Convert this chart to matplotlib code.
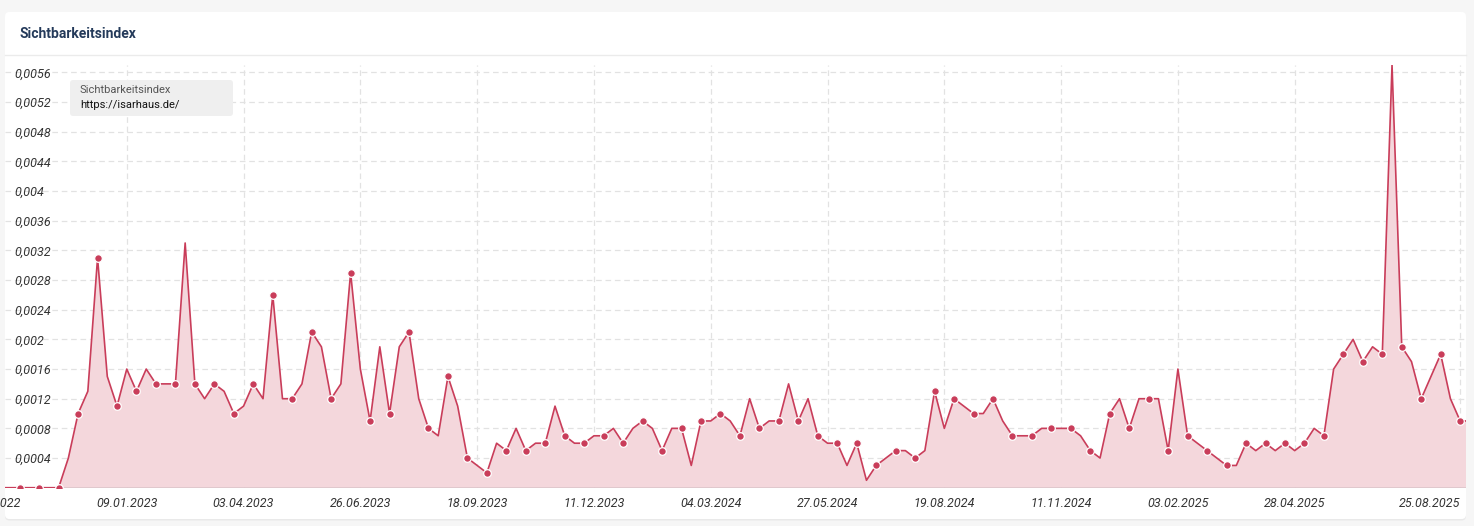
import numpy as np
import pandas as pd
import matplotlib
matplotlib.use("Agg")
import matplotlib.pyplot as plt
from matplotlib.patches import FancyBboxPatch
from matplotlib.ticker import FuncFormatter
import matplotlib.transforms as mtransforms

# weekly Sichtbarkeitsindex values, starting 03.10.2022
dates = pd.date_range("2022-10-03", periods=153, freq="7D")
values = [
    0, 0, 0, 0, 0, 0, 0, 0, 0.0004, 0.0010,
    0.0013, 0.0031, 0.0015, 0.0011, 0.0016, 0.0013, 0.0016, 0.0014, 0.0014, 0.0014,
    0.0033, 0.0014, 0.0012, 0.0014, 0.0013, 0.0010, 0.0011, 0.0014, 0.0012, 0.0026,
    0.0012, 0.0012, 0.0014, 0.0021, 0.0019, 0.0012, 0.0014, 0.0029, 0.0016, 0.0009,
    0.0019, 0.0010, 0.0019, 0.0021, 0.0012, 0.0008, 0.0007, 0.0015, 0.0011, 0.0004,
    0.0003, 0.0002, 0.0006, 0.0005, 0.0008, 0.0005, 0.0006, 0.0006, 0.0011, 0.0007,
    0.0006, 0.0006, 0.0007, 0.0007, 0.0008, 0.0006, 0.0008, 0.0009, 0.0008, 0.0005,
    0.0008, 0.0008, 0.0003, 0.0009, 0.0009, 0.0010, 0.0009, 0.0007, 0.0012, 0.0008,
    0.0009, 0.0009, 0.0014, 0.0009, 0.0012, 0.0007, 0.0006, 0.0006, 0.0003, 0.0006,
    0.0001, 0.0003, 0.0004, 0.0005, 0.0005, 0.0004, 0.0005, 0.0013, 0.0008, 0.0012,
    0.0011, 0.0010, 0.0010, 0.0012, 0.0009, 0.0007, 0.0007, 0.0007, 0.0008, 0.0008,
    0.0008, 0.0008, 0.0007, 0.0005, 0.0004, 0.0010, 0.0012, 0.0008, 0.0012, 0.0012,
    0.0012, 0.0005, 0.0016, 0.0007, 0.0006, 0.0005, 0.0004, 0.0003, 0.0003, 0.0006,
    0.0005, 0.0006, 0.0005, 0.0006, 0.0005, 0.0006, 0.0008, 0.0007, 0.0016, 0.0018,
    0.0020, 0.0017, 0.0019, 0.0018, 0.0057, 0.0019, 0.0017, 0.0012, 0.0015, 0.0018,
    0.0012, 0.0009, 0.0009,
]
tick_idx = [0, 14, 26, 38, 50, 62, 74, 86, 98, 110, 122, 134, 151]
y_ticks = [0.0004 * k for k in range(1, 15)]

line_col = "#c93d5a"
fill_col = "#f4d7dc"
grid_col = "#e2e2e2"
text_col = "#333333"

W, H = 1474, 526
fig = plt.figure(figsize=(W / 100, H / 100), dpi=100)
fig.patch.set_facecolor("#f6f6f6")

def fx(px):
    return px / W

def fy(py):
    return 1 - py / H

# card background
shadow = FancyBboxPatch((fx(5), fy(520.5)), fx(1461), (519 - 12) / H,
                        boxstyle="round,pad=0,rounding_size=0.003", mutation_aspect=W / H,
                        transform=fig.transFigure, facecolor="#e9e9e9", edgecolor="none", zorder=0)
card = FancyBboxPatch((fx(5), fy(519)), fx(1461), (519 - 12) / H,
                      boxstyle="round,pad=0,rounding_size=0.003", mutation_aspect=W / H,
                      transform=fig.transFigure, facecolor="white", edgecolor="none", zorder=0)
fig.patches.extend([shadow, card])
fig.add_artist(plt.Line2D([fx(5), fx(1466)], [fy(55), fy(55)], transform=fig.transFigure,
                          color="#ebebeb", lw=1, zorder=0.5))
fig.text(fx(20), fy(34), "Sichtbarkeitsindex", fontsize=10, fontweight="bold",
         family="Roboto", color="#243a5a", va="center", ha="left")

# plot area
ax = fig.add_axes([fx(5), fy(487.7), fx(1466) - fx(5), (487.7 - 65) / H])
ax.set_zorder(1)
ax.set_facecolor("none")

x = dates
ax.fill_between(x, values, 0, color=fill_col, lw=0, zorder=1)
ax.plot(x, values, color=line_col, lw=1.2, zorder=3)
ax.plot(x[1::2], values[1::2], ls="none", marker="o", ms=5.5, mfc=line_col,
        mec="white", mew=0.9, zorder=4)

week = pd.Timedelta(days=7)
ax.set_xlim(dates[0] + 1.49 * week, dates[0] + 151.6 * week)
ax.set_ylim(0, 0.0057)

for s in ax.spines.values():
    s.set_visible(False)
ax.axhline(0, color="#dcc3c9", lw=1.2, zorder=2)

# grid + ticks
ax.set_yticks(y_ticks)
ax.yaxis.set_major_formatter(FuncFormatter(
    lambda v, p: f"{v:.4f}".rstrip("0").replace(".", ",")))
ax.set_xticks([dates[i] for i in tick_idx[1:]])
ax.set_xticklabels([dates[i].strftime("%d.%m.%Y") for i in tick_idx[1:]])
ax.grid(True, color=grid_col, lw=0.9, ls=(0, (4.5, 3)), zorder=0)
ax.set_axisbelow(True)
ax.tick_params(axis="both", length=0, colors=text_col)
ax.tick_params(axis="y", pad=-6.5, labelsize=9)
ax.tick_params(axis="x", pad=7, labelsize=9)
for lab in ax.get_yticklabels():
    lab.set_ha("left")
    lab.set_fontstyle("italic")
    lab.set_family("Roboto")
for lab in ax.get_xticklabels():
    lab.set_fontstyle("italic")
    lab.set_family("Roboto")
# last label sits right-aligned at its tick
last = ax.get_xticklabels()[-1]
last.set_ha("right")

# first tick label, cut by the card edge
trans = mtransforms.blended_transform_factory(ax.transData, ax.transAxes)
first = ax.text(dates[tick_idx[0]], -7 / ((487.7 - 65) * 0.72), dates[tick_idx[0]].strftime("%d.%m.%Y"),
                transform=trans, ha="center", va="top", fontsize=9, fontstyle="italic",
                family="Roboto", color=text_col, clip_on=False)
first.set_clip_path(card)

# legend box
leg = FancyBboxPatch((fx(70), fy(116)), fx(163), 36 / H,
                     boxstyle="round,pad=0,rounding_size=0.002", mutation_aspect=W / H,
                     transform=fig.transFigure, facecolor="#efefef", edgecolor="none", zorder=5)
fig.patches.append(leg)
fig.text(fx(80), fy(90), "Sichtbarkeitsindex", fontsize=8, family="Roboto",
         color="#555555", va="center", ha="left", zorder=6)
fig.text(fx(80), fy(105), "https://isarhaus.de/", fontsize=8, family="Roboto",
         color="#111111", va="center", ha="left", zorder=6)

fig.savefig("out.png", dpi=100, facecolor=fig.get_facecolor())
